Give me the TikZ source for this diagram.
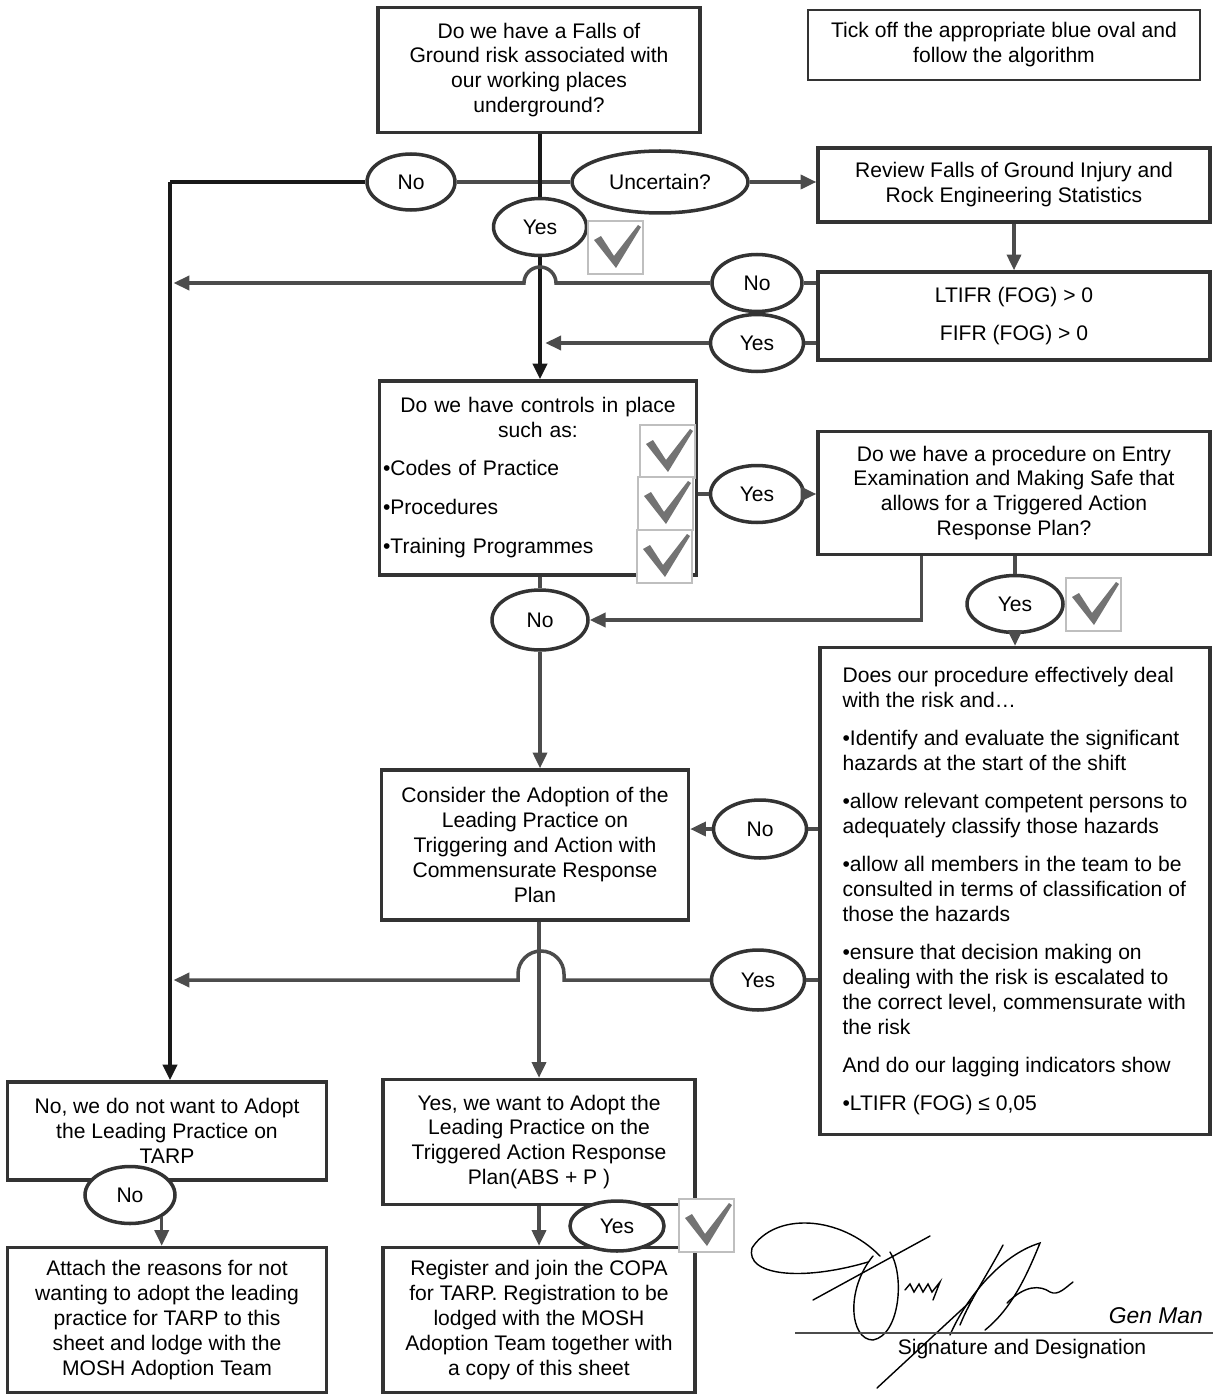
\documentclass[tikz,border=0pt]{standalone}
\usepackage{fontspec}
\setmainfont{Liberation Sans}
\usetikzlibrary{arrows.meta,shapes.geometric}

\begin{document}
\begin{tikzpicture}[x=0.02cm, y=-0.02cm, font=\fontsize{12}{14.2}\selectfont,
    rect/.style={draw=black!80, line width=1.9pt, fill=white, rectangle, align=center, inner sep=0pt},
    oval/.style={draw=black!80, line width=2pt, fill=white, ellipse, inner sep=0pt, minimum width=1.86cm, minimum height=1.14cm},
    conn/.style={black!70, line width=2pt},
    rail/.style={black!90, line width=2.6pt},
    sig/.style={black, line width=0.8pt, line cap=round},
    >={Triangle[length=9pt, width=8pt]},
    tickbox/.pic={
        \draw[black!25, line width=0.6pt, fill=white] (0,0) rectangle (55,53);
        \fill[black!55] (6,19) -- (13,15) -- (26,35) -- (50,4) -- (53,6) -- (28,47) -- cycle;
    }]
    \useasboundingbox (0,0) rectangle (1213,1395);

    % Top row
    \node[rect, minimum width=6.44cm, minimum height=2.5cm] (risk) at (539,70) {Do we have a Falls of\\Ground risk associated  with\\our working places\\underground?};
    \node[rect, line width=1.2pt, minimum width=7.84cm, minimum height=1.4cm] (note) at (1004,45) {Tick off the appropriate blue oval and\\follow the algorithm};
    \node[rect, minimum width=7.84cm, minimum height=1.48cm] (review) at (1014,185) {Review Falls of Ground Injury and\\Rock Engineering Statistics};
    \node[rect, minimum width=7.84cm, minimum height=1.76cm] (ltifr) at (1014,316) {LTIFR (FOG) > 0\\[7.4pt]FIFR (FOG) > 0};

    % Middle
    \node[rect, minimum width=6.34cm, minimum height=3.88cm, text width=6.2cm, align=left] (controls) at (538,478) {{\centering Do we have controls in place\par such as:\par}\vspace{7.4pt}\textbullet Codes of Practice\par\vspace{8pt}\textbullet Procedures\par\vspace{8pt}\textbullet Training Programmes};
    \node[rect, minimum width=7.84cm, minimum height=2.46cm] (entry) at (1014,493) {Do we have a procedure on Entry\\Examination and Making Safe that\\allows for  a Triggered Action\\Response Plan?};
    \node[rect, minimum width=7.8cm, minimum height=9.74cm, align=left] (effective) at (1015,891) {Does our procedure effectively deal\\with the risk and…\\[7.4pt]
        \textbullet Identify and evaluate the significant\\hazards at the start of the shift\\[7.4pt]
        \textbullet allow relevant competent persons to\\adequately classify those hazards\\[7.4pt]
        \textbullet allow all members in the team to be\\consulted in terms of classification of\\those the hazards\\[7.4pt]
        \textbullet ensure that decision  making on\\dealing with the risk  is escalated to\\the correct level, commensurate with\\the risk\\[7.4pt]
        And do our lagging indicators show\\[7.4pt]
        \textbullet LTIFR (FOG) ≤ 0,05};
    \node[rect, minimum width=6.14cm, minimum height=3cm] (consider) at (535,845) {Consider the Adoption of the\\Leading Practice on\\Triggering and Action with\\Commensurate Response\\Plan};

    % Bottom row
    \node[rect, minimum width=6.38cm, minimum height=1.96cm] (noadopt) at (167,1131) {No, we do not want to Adopt\\the Leading Practice on\\TARP};
    \node[rect, minimum width=6.24cm, minimum height=2.5cm] (yesadopt) at (539,1142) {Yes, we want to Adopt the\\Leading Practice on  the\\Triggered Action Response\\Plan(ABS + P )};
    \node[rect, minimum width=6.38cm, minimum height=2.9cm] (attach) at (167,1320) {Attach the reasons for not\\wanting to adopt the leading\\practice for TARP  to this\\sheet and lodge with the\\MOSH Adoption Team};
    \node[rect, minimum width=6.24cm, minimum height=2.9cm] (register) at (539,1320) {Register and join the COPA\\for TARP. Registration to be\\lodged with the MOSH\\Adoption Team together with\\a copy of this sheet};

    % Ovals
    \node[oval, minimum width=1.76cm, minimum height=1.12cm] (no-1) at (411,182) {No};
    \node[oval, minimum width=3.52cm, minimum height=1.24cm] (uncertain) at (660,182) {Uncertain?};
    \node[oval] (yes-1) at (540,227) {Yes};
    \node[oval, minimum width=1.8cm] (no-2) at (757,283) {No};
    \node[oval] (yes-2) at (757,343) {Yes};
    \node[oval] (yes-3) at (757,494) {Yes};
    \node[oval, minimum width=1.92cm, minimum height=1.2cm] (no-3) at (540,620) {No};
    \node[oval, minimum width=1.92cm] (yes-4) at (1015,604) {Yes};
    \node[oval, minimum height=1.16cm] (no-4) at (760,829) {No};
    \node[oval, minimum height=1.2cm] (yes-5) at (758,980) {Yes};
    \node[oval, minimum width=1.8cm] (no-5) at (130,1195) {No};
    \node[oval, minimum width=1.88cm, minimum height=1cm] (yes-6) at (617,1226) {Yes};

    % Ticks
    \pic at (588,221) {tickbox};
    \pic at (640,425) {tickbox};
    \pic at (638,477) {tickbox};
    \pic at (637,530) {tickbox};
    \pic at (1066,578) {tickbox};
    \pic at (679,1199) {tickbox};

    % Connectors
    \coordinate (rail) at (170,182);
    \draw[conn] (no-1.east) -- (uncertain.west);
    \draw[rail] (risk.south -| yes-1.north) -- (yes-1.north);
    \draw[rail, ->] (yes-1.south) -- (yes-1.south |- controls.north);
    \draw[rail] (no-1.west) -- (rail);
    \draw[rail, ->] (rail) -- (rail |- noadopt.north);
    \draw[conn, ->] (uncertain.east) -- (uncertain.east -| review.west);
    \draw[conn, ->] (review.south) -- (ltifr.north);
    \draw[conn] (ltifr.west |- no-2.east) -- (no-2.east);
    \draw[conn, ->, shorten >=2pt] (no-2.west) -- (556,283) arc[start angle=0, end angle=-180, radius=16] -- (rail |- no-2.west);
    \draw[conn] (ltifr.west |- yes-2.east) -- (yes-2.east);
    \draw[conn, ->, shorten >=3pt] (yes-2.west) -- (yes-1.south |- yes-2.west);
    \draw[conn] (controls.east |- yes-3.west) -- (yes-3.west);
    \draw[conn, ->] (yes-3.east) -- (entry.west |- yes-3.east);
    \draw[conn] (controls.south -| no-3.north) -- (no-3.north);
    \draw[conn, ->] (no-3.south) -- (no-3.south |- consider.north);
    \draw[conn, ->] (entry.south west) ++(105,0) |- (no-3.east);
    \draw[conn] (entry.south -| yes-4.north) -- (yes-4.north);
    \draw[conn, ->] (yes-4.south) -- (yes-4.south |- effective.north);
    \draw[conn] (effective.west |- no-4.east) -- (no-4.east);
    \draw[conn, ->] (no-4.west) -- (consider.east |- no-4.west);
    \draw[conn] (effective.west |- yes-5.east) -- (yes-5.east);
    \draw[conn, ->, shorten >=2pt] (yes-5.west) -- (564,980) -- (564,974) arc[start angle=0, end angle=-180, radius=23] -- (518,980) -- (rail |- yes-5.west);
    \draw[conn, ->] (yesadopt.north |- consider.south) -- (yesadopt.north);
    \draw[conn, ->] (no-5.-35) -- (no-5.-35 |- attach.north);
    \draw[conn, ->] (yesadopt.south) -- (register.north);

    % Signature
    \draw[sig] (880,1256) .. controls (840,1215) and (775,1212) .. (752,1248) .. controls (745,1275) and (800,1282) .. (868,1262);
    \draw[sig] (813,1300) -- (930,1236);
    \draw[sig] (873,1256) .. controls (845,1290) and (850,1340) .. (873,1340) .. controls (900,1335) and (905,1275) .. (890,1252);
    \draw[sig] (905,1290) -- (910,1284) -- (914,1292) -- (919,1284) -- (923,1292) -- (928,1284) -- (932,1292) -- (940,1282) -- (933,1300);
    \draw[sig] (877,1388) -- (972,1300);
    \draw[sig] (950,1335) .. controls (965,1300) and (1000,1255) .. (1040,1243) .. controls (1025,1280) and (1010,1310) .. (985,1330);
    \draw[sig] (1003,1245) .. controls (990,1270) and (970,1300) .. (960,1325);
    \draw[sig] (1007,1303) .. controls (1025,1285) and (1040,1285) .. (1050,1292) .. controls (1058,1296) and (1065,1288) .. (1073,1282);
    \node[anchor=base east, font=\fontsize{13}{13}\selectfont\itshape] (title) at (1209,1323) {Gen Man};
    \draw[black!70, line width=1.3pt] (795,1333) -- (1213,1333);
    \node (sigtext) at (1022,1349) {Signature and Designation};
\end{tikzpicture}
\end{document}
